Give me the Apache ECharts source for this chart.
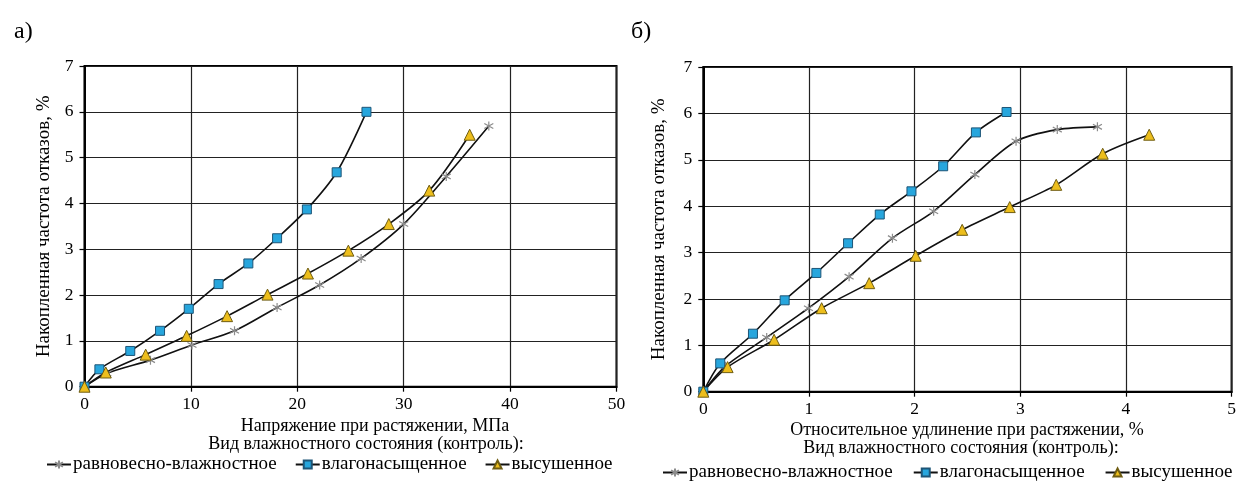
<!DOCTYPE html>
<html><head><meta charset="utf-8">
<script src="https://cdn.jsdelivr.net/npm/echarts@6/dist/echarts.min.js"></script>
<style>html,body{margin:0;padding:0;background:#fff}#c{width:1239px;height:484px}</style>
</head><body><div id="c"></div>
<script>
// ---- data: chart а) stress, MPa ----
var seriesNames = ['равновесно-влажностное', 'влагонасыщенное', 'высушенное'];
var aStarX = [0, 2.1, 6.2, 10.1, 14.1, 18.1, 22.1, 26.0, 30.0, 34.0, 38.0];
var aStarY = [0, 0.29, 0.58, 0.91, 1.22, 1.73, 2.22, 2.80, 3.55, 4.59, 5.69];
var aBlueX = [0, 1.4, 4.3, 7.1, 9.8, 12.6, 15.4, 18.1, 20.9, 23.7, 26.5];
var aBlueY = [0, 0.38, 0.78, 1.22, 1.70, 2.24, 2.69, 3.24, 3.87, 4.68, 6.0];
var aYelX = [0, 2.0, 5.75, 9.6, 13.4, 17.2, 21.0, 24.8, 28.6, 32.4, 36.2];
var aYelY = [0, 0.31, 0.70, 1.11, 1.54, 2.01, 2.47, 2.97, 3.55, 4.28, 5.50];
// ---- data: chart б) relative elongation, % ----
var bStarX = [0, 0.21, 0.60, 0.995, 1.38, 1.79, 2.18, 2.57, 2.96, 3.35, 3.73];
var bStarY = [0, 0.55, 1.17, 1.80, 2.48, 3.31, 3.89, 4.68, 5.40, 5.65, 5.71];
var bBlueX = [0, 0.16, 0.47, 0.77, 1.07, 1.37, 1.67, 1.97, 2.27, 2.58, 2.87];
var bBlueY = [0, 0.61, 1.25, 1.97, 2.56, 3.20, 3.82, 4.32, 4.86, 5.59, 6.03];
var bYelX = [0, 0.23, 0.67, 1.12, 1.57, 2.01, 2.45, 2.90, 3.34, 3.78, 4.22];
var bYelY = [0, 0.53, 1.12, 1.80, 2.34, 2.93, 3.49, 3.98, 4.46, 5.13, 5.54];
// ---- texts ----
var panelLabels = ['а)', 'б)'];
var xNames = ['Напряжение при растяжении, МПа', 'Относительное удлинение при растяжении, %'];
var yName = 'Накопленная частота отказов, %';
var legendTitle = 'Вид влажностного состояния (контроль):';

function zip(xs, ys) { return xs.map(function (x, i) { return [x, ys[i]]; }); }

var FONT = '"Liberation Serif", "Times New Roman", serif';
var starPath = 'path://M5,0L5,10M0,2.2L10,7.8M0,7.8L10,2.2';

var styles = [
  { symbol: starPath, symbolSize: 9, itemStyle: { color: 'rgba(0,0,0,0)', borderColor: '#8c8c8c', borderWidth: 1.2 } },
  { symbol: 'rect', symbolSize: 9, itemStyle: { color: '#27A6DD', borderColor: '#1d5577', borderWidth: 1 } },
  { symbol: 'triangle', symbolSize: 11, itemStyle: { color: '#EDBE1C', borderColor: '#6f5d12', borderWidth: 1 } }
];

function mkSeries(idx, name, data, st) {
  return {
    type: 'line', name: name, xAxisIndex: idx, yAxisIndex: idx, data: data,
    smooth: 0.3, symbol: st.symbol, symbolSize: st.symbolSize, showSymbol: true,
    lineStyle: { color: '#111', width: 1.6 }, itemStyle: st.itemStyle, z: 3
  };
}

function mkX(idx, max, interval) {
  return {
    type: 'value', gridIndex: idx, min: 0, max: max, interval: interval,
    axisLine: { show: true, onZero: false, lineStyle: { color: '#000', width: 2 } },
    axisTick: { show: true, inside: false, length: 5, lineStyle: { color: '#000', width: 1.2 } },
    axisLabel: { color: '#000', fontFamily: FONT, fontSize: 17.5, margin: 9 },
    splitLine: { show: true, lineStyle: { color: '#222', width: 1.2 } },
    name: ''
  };
}
function mkY(idx) {
  return {
    type: 'value', gridIndex: idx, min: 0, max: 7, interval: 1,
    axisLine: { show: true, onZero: false, lineStyle: { color: '#000', width: 2 } },
    axisTick: { show: true, inside: false, length: 5, lineStyle: { color: '#000', width: 1.2 } },
    axisLabel: { color: '#000', fontFamily: FONT, fontSize: 17.5, margin: 11 },
    splitLine: { show: true, lineStyle: { color: '#222', width: 1.2 } },
    name: yName, nameLocation: 'middle', nameRotate: 90, nameGap: idx === 0 ? 31 : 35,
    nameTextStyle: { color: '#000', fontFamily: FONT, fontSize: 19 }
  };
}

var chart = echarts.init(document.getElementById('c'), null, { renderer: 'canvas' });
var T = function (size) { return { fontFamily: FONT, fontSize: size, fontWeight: 'normal', color: '#000' }; };
var option = {
  animation: false,
  backgroundColor: '#fff',
  title: [
    { text: panelLabels[0], left: 9, top: 15, textStyle: T(24) },
    { text: panelLabels[1], left: 626, top: 15, textStyle: T(24) },
    { text: xNames[0], left: 370, top: 412, textAlign: 'center', textStyle: T(18) },
    { text: xNames[1], left: 962, top: 416, textAlign: 'center', textStyle: T(18) },
    { text: legendTitle, left: 361, top: 430, textAlign: 'center', textStyle: T(18) },
    { text: legendTitle, left: 956, top: 434, textAlign: 'center', textStyle: T(18) }
  ],
  legend: [
    { data: seriesNames, left: 46, top: 455, itemWidth: 24, itemHeight: 10, itemGap: 18, padding: 0,
      textStyle: { fontFamily: FONT, fontSize: 19, color: '#000', padding: [0, 0, 0, -3] } },
    { data: seriesNames, left: 662, top: 463, itemWidth: 24, itemHeight: 10, itemGap: 20, padding: 0,
      textStyle: { fontFamily: FONT, fontSize: 19, color: '#000', padding: [0, 0, 0, -3] } }
  ],
  grid: [
    { left: 84.5, right: 622.5, top: 66, bottom: 97.3, show: true, borderColor: '#000', borderWidth: 2, backgroundColor: 'transparent' },
    { left: 703.3, right: 3, top: 67, bottom: 92.3, show: true, borderColor: '#000', borderWidth: 2, backgroundColor: 'transparent' }
  ],
  xAxis: [mkX(0, 50, 10), mkX(1, 5, 1)],
  yAxis: [mkY(0), mkY(1)],
  series: [
    mkSeries(0, seriesNames[0], zip(aStarX, aStarY), styles[0]),
    mkSeries(0, seriesNames[1], zip(aBlueX, aBlueY), styles[1]),
    mkSeries(0, seriesNames[2], zip(aYelX, aYelY), styles[2]),
    mkSeries(1, seriesNames[0], zip(bStarX, bStarY), styles[0]),
    mkSeries(1, seriesNames[1], zip(bBlueX, bBlueY), styles[1]),
    mkSeries(1, seriesNames[2], zip(bYelX, bYelY), styles[2])
  ]
};
chart.setOption(option);
</script></body></html>
